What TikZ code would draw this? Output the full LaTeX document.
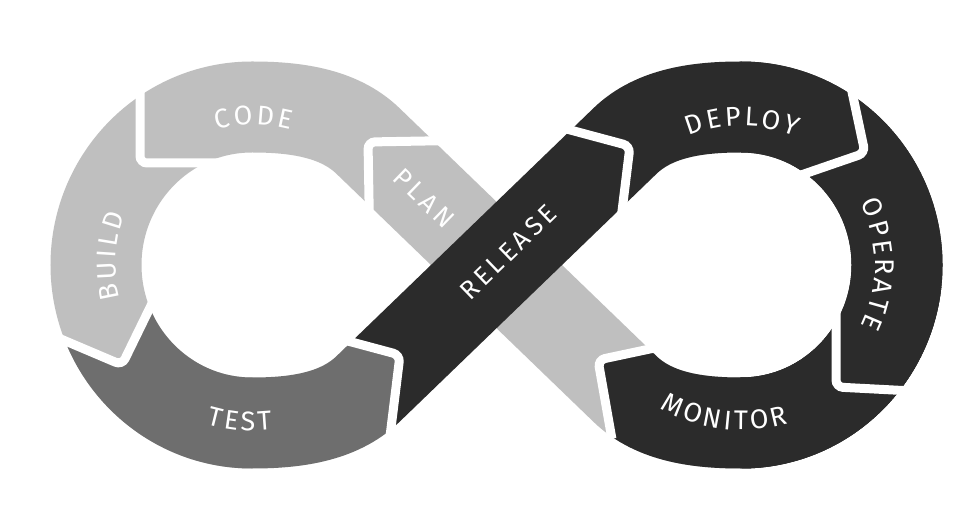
\documentclass[tikz,border=0pt]{standalone}
\usepackage{fontspec}
\usetikzlibrary{calc,decorations.text}
\newfontfamily\lblfont[LetterSpace=15]{Fira Sans}
\newfontfamily\arcfont{Fira Sans}
\definecolor{lightband}{HTML}{BFBFBF}
\definecolor{midband}{HTML}{6E6E6E}
\definecolor{darkband}{HTML}{2B2B2B}

% wedge behind a chevron tip (between its two arms)
\newcommand\behindclip[4]{%
  \pgfmathsetmacro\bmid{(#3+#4)/2}%
  \clip (#1,#2) -- ++(#3:2000) -- ($(#1,#2)+(\bmid:3000)$) -- ($(#1,#2)+(#4:2000)$) -- cycle;}
% region ahead of a chevron (complement of the wedge)
\newcommand\aheadclip[4]{%
  \pgfmathsetmacro\sspan{360-(#4-#3)}%
  \pgfmathsetmacro\myca{#4+\sspan/4}%
  \pgfmathsetmacro\mycb{#4+\sspan/2}%
  \pgfmathsetmacro\mycc{#4+3*\sspan/4}%
  \clip (#1,#2) -- ++(#4:2000) -- ($(#1,#2)+(\myca:3000)$) -- ($(#1,#2)+(\mycb:3000)$)
        -- ($(#1,#2)+(\mycc:3000)$) -- ($(#1,#2)+(#3:2000)$) -- cycle;}
% white chevron gap
\newcommand\gapV[4]{\draw[gapline] ($(#1,#2)+(#3:80)$) -- (#1,#2) -- ($(#1,#2)+(#4:80)$);}
% curved label (a kern before each letter gives the tracking)
\newcommand\arclabel[6]{%
  \path[decorate,decoration={text along path,text align=center,text color=white,
     text={|\arcfont\fontsize{27}{27}\selectfont\kern3pt|#6}}]
     ($(#1,#2)+(#4:#3pt)$) arc[start angle=#4,end angle=#5,radius=#3pt];}

% path pieces (without their start point, so that they can be chained)
\def\segLB{.. controls (293.5,107) and (338.2,112.2) .. (Q2) -- (Q3) .. controls (654.8,417.8) and (699.5,423) .. (Tr)}
\def\segR{.. controls (827.7,423) and (897,351.7) .. (Rp) .. controls (897,178.3) and (827.7,107) .. (Br)}
\def\segPL{.. controls (699.5,107) and (654.8,112.2) .. (Q4) -- (Q1) .. controls (338.2,417.8) and (293.5,423) .. (Tp)}
\def\segL{.. controls (165.3,423) and (96,351.7) .. (Lp) .. controls (96,178.3) and (165.3,107) .. (Bp)}

\begin{document}
\begin{tikzpicture}[x=1pt,y=1pt,
  band/.style={line width=91pt},
  gapline/.style={draw=white,line width=9pt,rounded corners=7pt},
  lbl/.style={text=white,inner sep=0pt,font=\lblfont\fontsize{26}{26}\selectfont}]
\useasboundingbox (0,0) rectangle (976,530);
\fill[white] (0,0) rectangle (976,530);
\coordinate (X) at (496.5,265);
\coordinate (Q1) at (368,389);
\coordinate (Tp) at (252,423);
\coordinate (Lp) at (96,265);
\coordinate (Bp) at (252,107);
\coordinate (Q2) at (368,141);
\coordinate (Q3) at (625,389);
\coordinate (Tr) at (741,423);
\coordinate (Rp) at (897,265);
\coordinate (Br) at (741,107);
\coordinate (Q4) at (625,141);
% light part: plan, code, build
\draw[band,lightband] (Br) \segPL \segL;
% dark right loop
\draw[band,darkband] (Tr) \segR;
\begin{scope}\behindclip{598}{170}{280}{372}\draw[band,darkband] (Tr) \segR \segPL;\end{scope}
% test
\begin{scope}\aheadclip{122}{165}{64}{157}\behindclip{400}{175}{165}{263}
  \draw[band,midband] (Tp) \segL \segLB;\end{scope}
% release over plan
\begin{scope}\aheadclip{400}{175}{165}{263}\draw[band,darkband] (Bp) \segLB \segR;\end{scope}
% gaps between the stages
\gapV{368}{388}{271}{361}
\gapV{140}{367}{0}{90}
\gapV{122}{165}{64}{157}
\gapV{400}{175}{165}{263}
\gapV{630}{384}{165}{263}
\gapV{865}{377}{102}{199}
\gapV{836}{143}{90}{357}
\gapV{598}{170}{12}{280}
% labels
\arclabel{252}{265}{140}{140}{40}{CODE}
\arclabel{252}{265}{136.5}{227}{127}{BUILD}
\arclabel{252}{265}{165.5}{215}{315}{TEST}
\arclabel{741}{265}{139}{140}{40}{DEPLOY}
\arclabel{741}{265}{134}{55}{-53}{OPERATE}
\arclabel{741}{265}{165}{208}{318}{MONITOR}
\node[lbl,rotate=-44] (plan) at (424,332) {PLAN};
\node[lbl,rotate=44] (release) at (508,278) {RELEASE};
\end{tikzpicture}
\end{document}
